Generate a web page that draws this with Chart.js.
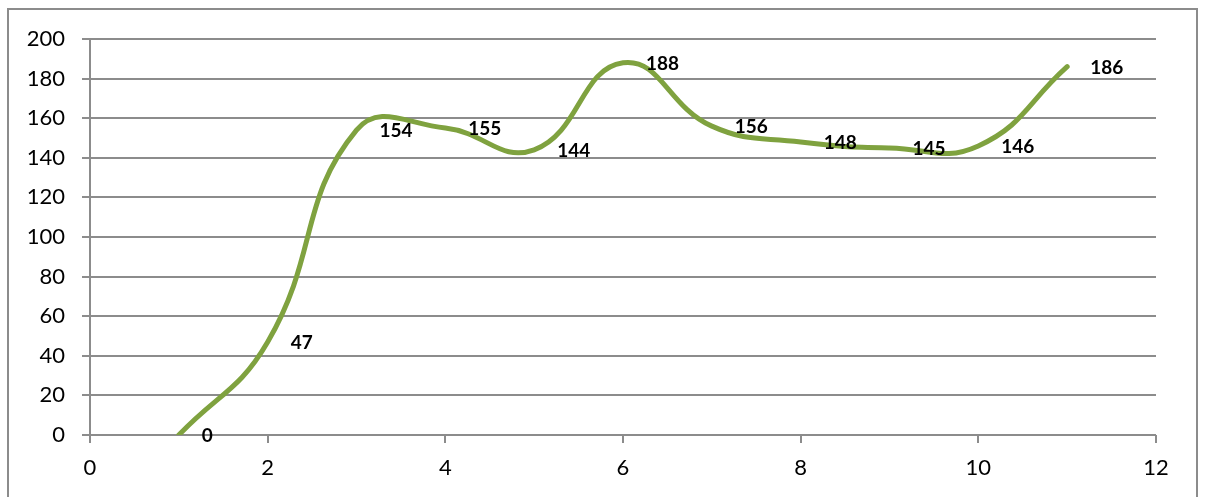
<!DOCTYPE html>
<html>
<head>
<meta charset="utf-8">
<script src="https://cdn.jsdelivr.net/npm/chart.js@4"></script>
<style>
  html, body { margin: 0; padding: 0; background: #fff; }
  body { width: 1206px; height: 497px; position: relative; overflow: hidden; }
  #frame {
    position: absolute; left: 7px; top: 8px; width: 1191px; height: 500px;
    border: 2px solid #8c8c8c; box-sizing: border-box;
  }
  #wrap { position: absolute; left: 0; top: 0; width: 1206px; height: 497px; }
</style>
</head>
<body>
<div id="frame"></div>
<div id="wrap"><canvas id="c" width="1206" height="497"></canvas></div>
<script>
// Measurements along the run
const xValues = [1, 2, 3, 4, 5, 6, 7, 8, 9, 10, 11];
const yValues = [0, 47, 154, 155, 144, 188, 156, 148, 145, 146, 186];
const xTicks = [0, 2, 4, 6, 8, 10, 12];
const yTicks = [0, 20, 40, 60, 80, 100, 120, 140, 160, 180, 200];

const points = xValues.map((x, i) => ({ x: x, y: yValues[i] }));

// Value labels placed just to the right of each point
const valueLabels = {
  id: 'valueLabels',
  afterDatasetsDraw(chart) {
    const ctx = chart.ctx;
    const xs = chart.scales.x, ys = chart.scales.y;
    ctx.save();
    ctx.font = 'bold 19px Lato';
    ctx.fillStyle = '#000';
    ctx.textAlign = 'left';
    ctx.textBaseline = 'middle';
    points.forEach(p => {
      ctx.fillText(String(p.y), xs.getPixelForValue(p.x) + 23, ys.getPixelForValue(p.y) + 1);
    });
    ctx.restore();
  }
};

new Chart(document.getElementById('c'), {
  type: 'scatter',
  data: {
    datasets: [{
      data: points,
      showLine: true,
      borderColor: '#7fa23f',
      borderWidth: 5,
      borderCapStyle: 'round',
      borderJoinStyle: 'round',
      tension: 0.45,
      pointRadius: 0,
      pointHoverRadius: 0,
      fill: false
    }]
  },
  options: {
    responsive: false,
    animation: false,
    events: [],
    layout: { padding: { left: 0, top: 39, right: 50, bottom: 0 } },
    plugins: { legend: { display: false }, tooltip: { enabled: false } },
    scales: {
      x: {
        type: 'linear',
        min: 0, max: 12,
        afterBuildTicks(scale) { scale.ticks = xTicks.map(v => ({ value: v })); },
        afterFit(scale) { scale.height = 62; },
        grid: { drawOnChartArea: false, drawTicks: true, tickLength: 8, color: '#8c8c8c', lineWidth: 2 },
        border: { display: false },
        ticks: { color: '#000', font: { family: 'Lato', size: 22 }, padding: 12, maxRotation: 0 }
      },
      y: {
        type: 'linear',
        min: 0, max: 200,
        afterBuildTicks(scale) { scale.ticks = yTicks.map(v => ({ value: v })); },
        afterFit(scale) { scale.width = 90; },
        grid: { drawOnChartArea: true, drawTicks: true, tickLength: 8, color: '#8c8c8c', lineWidth: 2 },
        border: { display: true, color: '#8c8c8c', width: 2 },
        ticks: { color: '#000', font: { family: 'Lato', size: 22 }, padding: 17 }
      }
    }
  },
  plugins: [valueLabels]
});
</script>
</body>
</html>
